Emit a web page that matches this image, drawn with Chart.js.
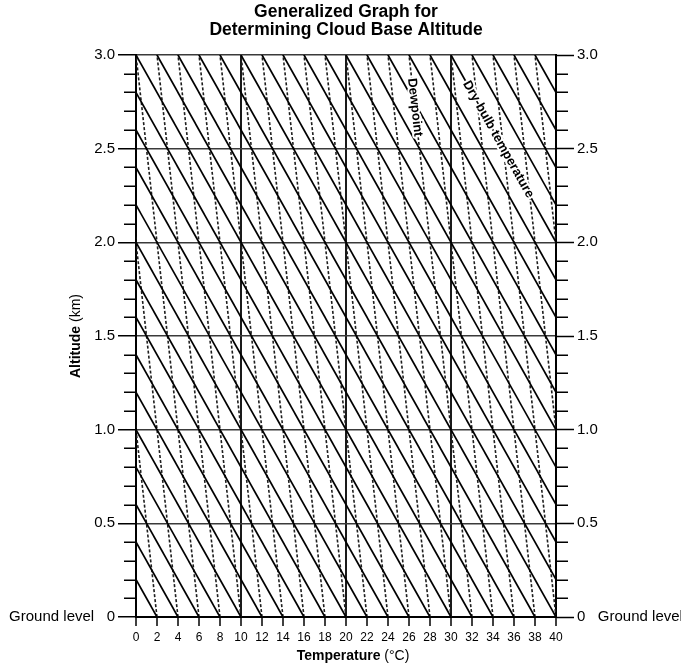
<!DOCTYPE html>
<html>
<head>
<meta charset="utf-8">
<script src="https://cdn.jsdelivr.net/npm/chart.js@4.4.1/dist/chart.umd.min.js"></script>
<style>
  html, body { margin: 0; padding: 0; background: #fff; }
  canvas { display: block; }
</style>
</head>
<body>
<canvas id="c" width="681" height="665"></canvas>
<script>
// ---- data ----
const titleLines = ['Generalized Graph for', 'Determining Cloud Base Altitude'];
// Dry-bulb (dry adiabatic) lines: temperature at ground level and at 3.0 km
const dryGroundTemps = [2, 4, 6, 8, 10, 12, 14, 16, 18, 20, 22, 24, 26, 28, 30, 32, 34, 36, 38, 40, 42, 44, 46, 48, 50, 52, 54, 56, 58, 60, 62, 64, 66, 68, 70];
const dryTopTemps = [-28, -26, -24, -22, -20, -18, -16, -14, -12, -10, -8, -6, -4, -2, 0, 2, 4, 6, 8, 10, 12, 14, 16, 18, 20, 22, 24, 26, 28, 30, 32, 34, 36, 38, 40];
// Dewpoint lines: temperature at ground level and at 3.0 km
const dewGroundTemps = [2, 4, 6, 8, 10, 12, 14, 16, 18, 20, 22, 24, 26, 28, 30, 32, 34, 36, 38, 40, 42, 44];
const dewTopTemps = [-4, -2, 0, 2, 4, 6, 8, 10, 12, 14, 16, 18, 20, 22, 24, 26, 28, 30, 32, 34, 36, 38];
const altitudeBounds = [0, 3.0];
const temperatureBounds = [0, 40];
const xTickValues = [0, 2, 4, 6, 8, 10, 12, 14, 16, 18, 20, 22, 24, 26, 28, 30, 32, 34, 36, 38, 40];
const xGridValues = [10, 20, 30];
const yTickValues = [0, 0.1, 0.2, 0.3, 0.4, 0.5, 0.6, 0.7, 0.8, 0.9, 1.0, 1.1, 1.2, 1.3, 1.4, 1.5, 1.6, 1.7, 1.8, 1.9, 2.0, 2.1, 2.2, 2.3, 2.4, 2.5, 2.6, 2.7, 2.8, 2.9, 3.0];
const yMajorValues = [0, 0.5, 1.0, 1.5, 2.0, 2.5, 3.0];
const yMajorLabels = ['0', '0.5', '1.0', '1.5', '2.0', '2.5', '3.0'];
const groundLabel = 'Ground level';
// annotation placed along a line (index into the arrays) at an altitude
const dewLabel = { text: 'Dewpoint', line: 15, altitude: 2.72 };
const dryLabel = { text: 'Dry-bulb temperature', line: 29, altitude: 2.55 };

// ---- helpers ----
const FONT = '"Liberation Sans", Arial, Helvetica, sans-serif';
const isMajor = v => yMajorValues.some(m => Math.abs(m - v) < 1e-6);
const majorLabel = v => { const i = yMajorValues.findIndex(m => Math.abs(m - v) < 1e-6); return i >= 0 ? yMajorLabels[i] : ''; };

const datasets = [];
dryGroundTemps.forEach((g, i) => {
  datasets.push({
    data: [{ x: g, y: altitudeBounds[0] }, { x: dryTopTemps[i], y: altitudeBounds[1] }],
    showLine: true, borderColor: '#000', borderWidth: 1.7, pointRadius: 0, fill: false
  });
});
dewGroundTemps.forEach((g, i) => {
  datasets.push({
    data: [{ x: g, y: altitudeBounds[0] }, { x: dewTopTemps[i], y: altitudeBounds[1] }],
    showLine: true, borderColor: '#1e1e1e', borderWidth: 1.6, borderDash: [3, 2], pointRadius: 0, fill: false
  });
});

const minorTicks = {
  id: 'minorTicks',
  afterDraw(chart) {
    const { ctx, chartArea, scales } = chart;
    ctx.save();
    ctx.strokeStyle = '#000';
    ctx.lineWidth = 1.5;
    yTickValues.forEach(v => {
      if (isMajor(v)) return;
      const py = Math.round(scales.y.getPixelForValue(v)) + 0.25;
      ctx.beginPath();
      ctx.moveTo(chartArea.left - 12, py); ctx.lineTo(chartArea.left, py);
      ctx.moveTo(chartArea.right, py); ctx.lineTo(chartArea.right + 12, py);
      ctx.stroke();
    });
    ctx.restore();
  }
};

function drawMixed(ctx, parts, cx, cy) {
  let total = 0;
  const widths = parts.map(p => { ctx.font = p.weight + ' 14px ' + FONT; const w = ctx.measureText(p.text).width; total += w; return w; });
  let x = cx - total / 2;
  parts.forEach((p, i) => {
    ctx.font = p.weight + ' 14px ' + FONT;
    ctx.fillText(p.text, x, cy);
    x += widths[i];
  });
}

function labelAlong(chart, ground, top, altitude, text) {
  const { ctx, scales } = chart;
  const x0 = scales.x.getPixelForValue(top), y0 = scales.y.getPixelForValue(altitudeBounds[1]);
  const x1 = scales.x.getPixelForValue(ground), y1 = scales.y.getPixelForValue(altitudeBounds[0]);
  const frac = (altitudeBounds[1] - altitude) / (altitudeBounds[1] - altitudeBounds[0]);
  const px = x0 + (x1 - x0) * frac, py = y0 + (y1 - y0) * frac;
  const ang = Math.atan2(y1 - y0, x1 - x0);
  ctx.save();
  ctx.translate(px, py);
  ctx.rotate(ang);
  ctx.font = 'bold 13px ' + FONT;
  ctx.textAlign = 'center';
  ctx.textBaseline = 'middle';
  ctx.lineWidth = 4;
  ctx.strokeStyle = '#fff';
  ctx.lineJoin = 'round';
  ctx.strokeText(text, 0, 0);
  ctx.fillStyle = '#000';
  ctx.fillText(text, 0, 0);
  ctx.restore();
}

const textPlugin = {
  id: 'texts',
  afterDraw(chart) {
    const { ctx, chartArea } = chart;
    labelAlong(chart, dewGroundTemps[dewLabel.line], dewTopTemps[dewLabel.line], dewLabel.altitude, dewLabel.text);
    labelAlong(chart, dryGroundTemps[dryLabel.line], dryTopTemps[dryLabel.line], dryLabel.altitude, dryLabel.text);
    ctx.save();
    ctx.fillStyle = '#000';
    ctx.textBaseline = 'middle';
    ctx.textAlign = 'left';
    drawMixed(ctx, [{ text: 'Temperature', weight: 'bold' }, { text: ' (°C)', weight: 'normal' }],
      (chartArea.left + chartArea.right) / 2 + 7, 656);
    ctx.translate(76, (chartArea.top + chartArea.bottom) / 2);
    ctx.rotate(-Math.PI / 2);
    drawMixed(ctx, [{ text: 'Altitude', weight: 'bold' }, { text: ' (km)', weight: 'normal' }], 0, 0);
    ctx.restore();
  }
};

const yTickCommon = {
  min: altitudeBounds[0], max: altitudeBounds[1],
  afterBuildTicks: s => { s.ticks = yTickValues.map(v => ({ value: v })); },
  border: { display: true, color: '#000', width: 2 }
};

new Chart(document.getElementById('c'), {
  type: 'scatter',
  data: { datasets },
  options: {
    responsive: false,
    animation: false,
    events: [],
    layout: { padding: 0 },
    plugins: {
      legend: { display: false },
      tooltip: { enabled: false },
      title: {
        display: true, text: titleLines, fullSize: false, color: '#000',
        font: { family: FONT, size: 17.5, weight: 'bold', lineHeight: '18px' },
        padding: { top: 3, bottom: 16 }
      }
    },
    scales: {
      x: {
        type: 'linear', min: temperatureBounds[0], max: temperatureBounds[1],
        afterBuildTicks: s => { s.ticks = xTickValues.map(v => ({ value: v })); },
        afterFit: s => { s.height = 48; },
        ticks: { autoSkip: false, maxRotation: 0, color: '#000', padding: 4, font: { family: FONT, size: 12 } },
        grid: {
          color: c => (c.tick && xGridValues.includes(c.tick.value)) ? '#1a1a1a' : 'rgba(0,0,0,0)',
          lineWidth: 2, tickColor: '#000', tickWidth: 1.5, tickLength: 9
        },
        border: { display: true, color: '#000', width: 2 }
      },
      y: Object.assign({}, yTickCommon, {
        type: 'linear', position: 'left',
        afterFit: s => { s.width = 136; },
        ticks: {
          autoSkip: false, color: '#000', padding: 3, font: { family: FONT, size: 15 },
          callback: v => { const l = majorLabel(v); return (Math.abs(v) < 1e-6) ? groundLabel + '   ' + l : l; }
        },
        grid: {
          color: c => (c.tick && isMajor(c.tick.value) && c.tick.value > 0) ? '#3a3a3a' : 'rgba(0,0,0,0)',
          lineWidth: 1.5,
          tickColor: c => (c.tick && isMajor(c.tick.value)) ? '#000' : 'rgba(0,0,0,0)',
          tickWidth: 1.5, tickLength: 18
        }
      }),
      y2: Object.assign({}, yTickCommon, {
        type: 'linear', position: 'right',
        afterFit: s => { s.width = 125; },
        ticks: {
          autoSkip: false, color: '#000', padding: 3, font: { family: FONT, size: 15 },
          callback: v => { const l = majorLabel(v); return (Math.abs(v) < 1e-6) ? l + '   ' + groundLabel : l; }
        },
        grid: {
          drawOnChartArea: false,
          tickColor: c => (c.tick && isMajor(c.tick.value)) ? '#000' : 'rgba(0,0,0,0)',
          tickWidth: 1.5, tickLength: 18
        }
      })
    }
  },
  plugins: [minorTicks, textPlugin]
});
</script>
</body>
</html>
